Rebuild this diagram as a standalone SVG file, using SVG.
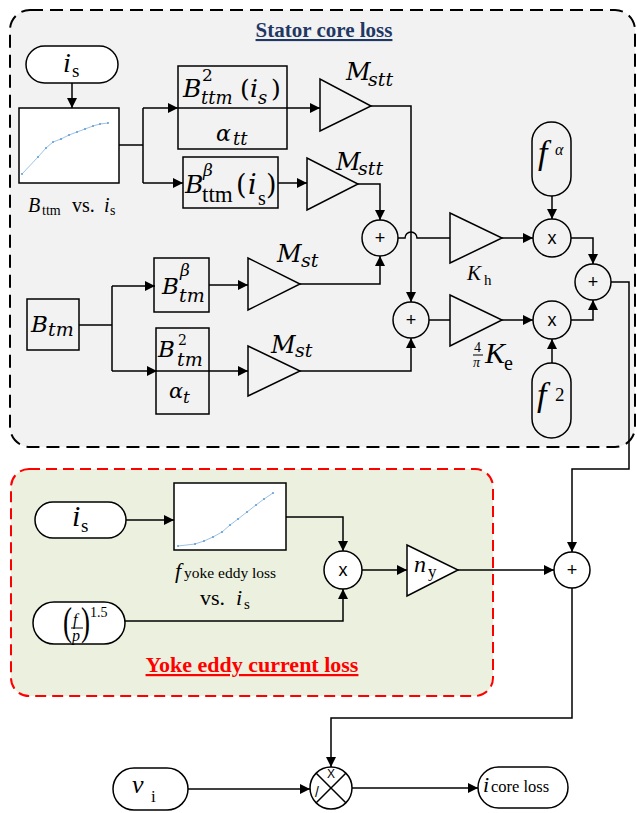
<svg xmlns="http://www.w3.org/2000/svg" width="637" height="813" viewBox="0 0 637 813">
<defs>
<marker id="ah" viewBox="0 0 10 10" refX="10" refY="5" markerWidth="10" markerHeight="10" markerUnits="userSpaceOnUse" orient="auto"><path d="M0,0 L10,5 L0,10 z" fill="#000"/></marker>
<style>
.ln{fill:none;stroke:#000;stroke-width:1.5}
.ar{fill:none;stroke:#000;stroke-width:1.5;marker-end:url(#ah)}
.blk{fill:none;stroke:#000;stroke-width:1.5}
.wblk{fill:#fff;stroke:#000;stroke-width:1.5}
.mi{font-family:"DejaVu Serif",serif;font-style:italic;fill:#000}
.mu{font-family:"DejaVu Serif",serif;fill:#000}
.ti{font-family:"Liberation Serif",serif;font-style:italic;fill:#000}
.tu{font-family:"Liberation Serif",serif;fill:#000}
.op{font-family:"Liberation Sans",sans-serif;font-size:18px;text-anchor:middle;fill:#000}
.crv{fill:none;stroke:#9dc3e6;stroke-width:1}
.dot{fill:#5b9bd5}
</style>
</defs>
<rect x="0" y="0" width="637" height="813" fill="#fff"/>

<g id="stator-group">
<rect x="10" y="10" width="625" height="437" rx="20" fill="#f2f2f2" stroke="#000" stroke-width="2" stroke-dasharray="13,7"/>
<text x="324" y="37" font-family="Liberation Serif,serif" font-weight="bold" font-size="21" fill="#1f3864" text-anchor="middle" text-decoration="underline">Stator core loss</text>
</g>
<g id="yoke-group">
<rect x="11" y="469" width="482" height="227" rx="18" fill="#ebf1de" stroke="#ff0000" stroke-width="2" stroke-dasharray="11,6"/>
<text x="252" y="672" font-family="Liberation Serif,serif" font-weight="bold" font-size="22" fill="#ff0000" text-anchor="middle" text-decoration="underline">Yoke eddy current loss</text>
</g>

<g id="connectors">
<path class="ar" d="M72,83 V108"/>
<path class="ln" d="M119,145 H143 M143,108 V183"/>
<path class="ar" d="M143,108 H178"/>
<path class="ar" d="M143,183 H183"/>
<path class="ar" d="M178,108 H320" stroke-width="2"/>
<path class="ar" d="M278,183 H307"/>
<path class="ar" d="M371,106 H411 V302"/>
<path class="ar" d="M358,184 H380 V220"/>
<path class="ln" d="M398,238 H405 A6,6 0 0 1 417,238 H450"/>
<path class="ln" d="M79,325 H112 M112,286 V371"/>
<path class="ar" d="M112,286 H155"/>
<path class="ar" d="M112,371 H157"/>
<path class="ar" d="M209,285 H248"/>
<path class="ar" d="M157,371 H248" stroke-width="2"/>
<path class="ar" d="M300,284 H380 V256"/>
<path class="ar" d="M300,371 H411 V338"/>
<path class="ln" d="M429,320 H450"/>
<path class="ar" d="M502,238 H533"/>
<path class="ar" d="M502,320 H533"/>
<path class="ar" d="M552,196 V219"/>
<path class="ar" d="M552,363 V339"/>
<path class="ar" d="M571,238 H593 V264"/>
<path class="ar" d="M571,320 H593 V300"/>
<path class="ar" d="M611,282 H629 V469 H572 V552"/>
<path class="ar" d="M126,520 H174"/>
<path class="ar" d="M286,517 H343 V551"/>
<path class="ar" d="M125,621 H343 V589"/>
<path class="ar" d="M362,570 H407"/>
<path class="ar" d="M458,570 H554"/>
<path class="ar" d="M572,588 V718 H331 V767"/>
<path class="ar" d="M188,789 H310"/>
<path class="ar" d="M352,788 H478"/>
</g>

<g id="is-top">
<rect class="wblk" x="26" y="46" width="92" height="37" rx="18.5"/>
<text class="ti" x="63" y="72" font-size="28">i</text>
<text class="tu" x="72" y="77" font-size="19">s</text>
</g>

<g id="chart-bttm">
<rect class="wblk" x="19" y="108" width="100" height="75"/>
<polyline class="crv" points="22,174 38,157 46,148 53,142 61,139 69,135 77,132 85,129 93,126 100,124 108,123"/>
<g class="dot"><circle cx="22" cy="174" r="1"/><circle cx="38" cy="157" r="1"/><circle cx="46" cy="148" r="1"/><circle cx="53" cy="142" r="1"/><circle cx="61" cy="139" r="1"/><circle cx="69" cy="135" r="1"/><circle cx="77" cy="132" r="1"/><circle cx="85" cy="129" r="1"/><circle cx="93" cy="126" r="1"/><circle cx="100" cy="124" r="1"/><circle cx="108" cy="123" r="1"/></g>
<text class="ti" x="28" y="212" font-size="20">B</text>
<text class="tu" x="42" y="215" font-size="14">ttm</text>
<text class="tu" x="72" y="212" font-size="20">vs.</text>
<text class="ti" x="104" y="212" font-size="20">i</text>
<text class="tu" x="110" y="215" font-size="14">s</text>
</g>

<g id="box-bttm2">
<rect class="blk" x="178" y="66" width="109" height="83"/>
<text class="mi" x="183" y="97" font-size="25">B</text>
<text class="mu" x="202" y="81" font-size="17">2</text>
<text class="mi" x="201" y="104" font-size="18">ttm</text>
<text class="mu" x="240" y="97" font-size="25">(</text>
<text class="mi" x="250" y="97" font-size="25">i</text>
<text class="mi" x="258" y="104" font-size="18">s</text>
<text class="mu" x="271" y="97" font-size="25">)</text>
<text class="mi" x="216" y="141" font-size="22">α</text>
<text class="mi" x="233" y="145" font-size="18">tt</text>
</g>

<g id="box-bttmbeta">
<rect class="blk" x="183" y="157" width="95" height="51"/>
<text class="mi" x="185" y="193" font-size="25">B</text>
<text class="mi" x="203" y="176" font-size="17">β</text>
<text class="tu" x="202" y="202" font-size="23">ttm</text>
<text class="mu" x="236" y="194" font-size="27">(</text>
<text class="mi" x="248" y="194" font-size="27">i</text>
<text class="tu" x="258" y="205" font-size="20">s</text>
<text class="mu" x="266" y="194" font-size="27">)</text>
</g>

<g id="gain-mstt1">
<polygon class="blk" points="320,79 320,131 371,106"/>
<text class="mi" x="346" y="80" font-size="24">M</text>
<text class="mi" x="368" y="86" font-size="19">stt</text>
</g>
<g id="gain-mstt2">
<polygon class="blk" points="307,158 307,210 358,184"/>
<text class="mi" x="336" y="170" font-size="24">M</text>
<text class="mi" x="358" y="175" font-size="19">stt</text>
</g>

<g id="box-btm">
<rect class="blk" x="27" y="299" width="52" height="51"/>
<text class="mi" x="31" y="332" font-size="23">B</text>
<text class="mi" x="48" y="336" font-size="19">tm</text>
</g>
<g id="box-btmbeta">
<rect class="blk" x="154" y="258" width="55" height="54"/>
<text class="mi" x="162" y="294" font-size="23">B</text>
<text class="mi" x="180" y="276" font-size="17">β</text>
<text class="mi" x="179" y="302" font-size="19">tm</text>
</g>
<g id="box-btm2">
<rect class="blk" x="156" y="328" width="53" height="86"/>
<text class="mi" x="158" y="357" font-size="23">B</text>
<text class="mu" x="178" y="345" font-size="14">2</text>
<text class="mi" x="177" y="366" font-size="19">tm</text>
<text class="mi" x="169" y="398" font-size="21">α</text>
<text class="mi" x="183" y="403" font-size="17">t</text>
</g>

<g id="gain-mst1">
<polygon class="blk" points="248,258 248,310 300,284"/>
<text class="mi" x="277" y="262" font-size="24">M</text>
<text class="mi" x="301" y="267" font-size="19">st</text>
</g>
<g id="gain-mst2">
<polygon class="blk" points="248,346 248,396 300,371"/>
<text class="mi" x="271" y="353" font-size="24">M</text>
<text class="mi" x="295" y="357" font-size="19">st</text>
</g>

<g id="sum-upper">
<circle class="blk" cx="380" cy="238" r="18"/>
<text class="op" x="380" y="244">+</text>
</g>
<g id="sum-lower">
<circle class="blk" cx="411" cy="320" r="18"/>
<text class="op" x="411" y="326">+</text>
</g>

<g id="gain-kh">
<polygon class="blk" points="450,213 450,263 502,238"/>
<text class="ti" x="467" y="280" font-size="21">K</text>
<text class="tu" x="484" y="285" font-size="15">h</text>
</g>
<g id="gain-ke">
<polygon class="blk" points="450,295 450,346 502,320"/>
<text class="tu" x="474" y="352" font-size="14">4</text>
<line x1="473" y1="355" x2="483" y2="355" stroke="#000" stroke-width="1"/>
<text class="ti" x="473" y="367" font-size="14">π</text>
<text class="ti" x="485" y="363" font-size="30">K</text>
<text class="tu" x="504" y="370" font-size="20">e</text>
</g>

<g id="mult-1">
<circle class="blk" cx="552" cy="238" r="19"/>
<text class="op" x="552" y="244">x</text>
</g>
<g id="mult-2">
<circle class="blk" cx="552" cy="320" r="19"/>
<text class="op" x="552" y="326">x</text>
</g>

<g id="f-alpha">
<rect class="blk" x="532" y="122" width="39" height="74" rx="19.5"/>
<text class="ti" x="538" y="164" font-size="34">f</text>
<text class="ti" x="555" y="155" font-size="16">α</text>
</g>
<g id="f-sq">
<rect class="blk" x="532" y="363" width="39" height="75" rx="19.5"/>
<text class="ti" x="537" y="406" font-size="34">f</text>
<text class="tu" x="555" y="401" font-size="19">2</text>
</g>

<g id="sum-final">
<circle class="blk" cx="593" cy="282" r="18"/>
<text class="op" x="593" y="288">+</text>
</g>

<g id="is-yoke">
<rect class="wblk" x="35" y="502" width="91" height="36" rx="18"/>
<text class="ti" x="72" y="526" font-size="30">i</text>
<text class="tu" x="81" y="532" font-size="19">s</text>
</g>

<g id="chart-yoke">
<rect class="wblk" x="174" y="483" width="112" height="67"/>
<polyline class="crv" points="178,546 195,544 204,541 213,537 222,532 230,525 238,519 247,512 256,505 264,499 273,493"/>
<g class="dot"><circle cx="178" cy="546" r="1"/><circle cx="195" cy="544" r="1"/><circle cx="204" cy="541" r="1"/><circle cx="213" cy="537" r="1"/><circle cx="222" cy="532" r="1"/><circle cx="230" cy="525" r="1"/><circle cx="238" cy="519" r="1"/><circle cx="247" cy="512" r="1"/><circle cx="256" cy="505" r="1"/><circle cx="264" cy="499" r="1"/><circle cx="273" cy="493" r="1"/></g>
<text class="ti" x="175" y="578" font-size="22">f</text>
<text class="tu" x="184" y="578" font-size="15.5">yoke eddy loss</text>
<text class="tu" x="200" y="605" font-size="22">vs.</text>
<text class="ti" x="236" y="605" font-size="22">i</text>
<text class="tu" x="244" y="609" font-size="15">s</text>
</g>

<g id="f-over-p">
<rect class="wblk" x="33" y="602" width="92" height="42" rx="21"/>
<text class="tu" font-size="27" transform="translate(63,635) scale(1,1.45)">(</text>
<text class="tu" font-size="27" transform="translate(81,635) scale(1,1.45)">)</text>
<text class="ti" x="73" y="625" font-size="16">f</text>
<line x1="71" y1="628" x2="83" y2="628" stroke="#000" stroke-width="1"/>
<text class="ti" x="72" y="641" font-size="16">p</text>
<text class="tu" x="90" y="617" font-size="14">1.5</text>
</g>

<g id="mult-yoke">
<circle class="wblk" cx="343" cy="570" r="19" stroke-width="2.2"/>
<text class="op" x="343" y="576">x</text>
</g>

<g id="gain-ny">
<polygon class="wblk" points="407,545 407,596 458,570"/>
<text class="ti" x="414" y="572" font-size="24">n</text>
<text class="tu" x="428" y="577" font-size="17">y</text>
</g>

<g id="sum-2">
<circle class="wblk" cx="572" cy="570" r="18"/>
<text class="op" x="572" y="576">+</text>
</g>

<g id="vi">
<rect class="wblk" x="113" y="768" width="75" height="42" rx="21"/>
<text class="ti" x="132" y="793" font-size="26">v</text>
<text class="tu" x="151" y="802" font-size="17">i</text>
</g>

<g id="divide">
<circle class="wblk" cx="331" cy="788" r="21"/>
<line x1="316.2" y1="773.2" x2="345.8" y2="802.8" stroke="#000" stroke-width="1.5"/>
<line x1="345.8" y1="773.2" x2="316.2" y2="802.8" stroke="#000" stroke-width="1.5"/>
<text class="op" x="331" y="778" style="font-size:12px">X</text>
<text class="op" x="317" y="797" style="font-size:14px">/</text>
</g>

<g id="icore">
<rect class="wblk" x="478" y="767" width="90" height="41" rx="20.5"/>
<text class="ti" x="483" y="792" font-size="22">i</text>
<text class="tu" x="491" y="792" font-size="16.5">core loss</text>
</g>
</svg>
